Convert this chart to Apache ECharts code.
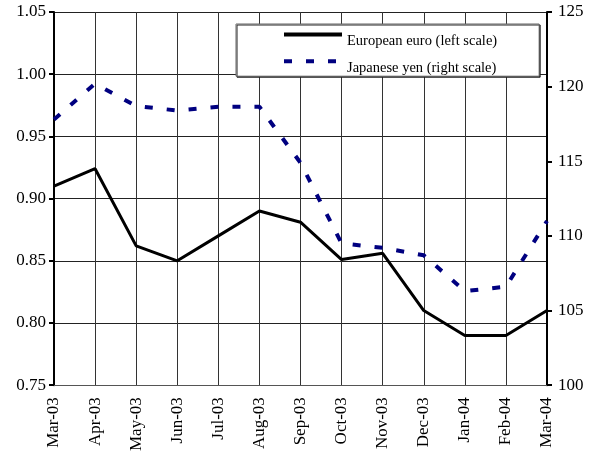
<!DOCTYPE html>
<html><head><meta charset="utf-8">
<script src="https://cdn.jsdelivr.net/npm/echarts@6/dist/echarts.min.js"></script>
<style>html,body{margin:0;padding:0;background:#fff}#c{width:597px;height:454px}</style>
</head><body><div id="c"></div>
<script>
const months = ['Mar-03','Apr-03','May-03','Jun-03','Jul-03','Aug-03','Sep-03','Oct-03','Nov-03','Dec-03','Jan-04','Feb-04','Mar-04'];
const euro = [0.910,0.924,0.862,0.850,0.870,0.890,0.881,0.851,0.856,0.810,0.790,0.790,0.810];
const yen = [117.8,120.2,118.7,118.4,118.65,118.65,114.9,109.5,109.2,108.7,106.3,106.6,111.0];
const leftTicks = {min:0.75, max:1.05, step:0.05};
const rightTicks = {min:100, max:125, step:5};
const seriesNames = ['European euro (left scale)','Japanese yen (right scale)'];
const FONT = 'Liberation Serif';
const chart = echarts.init(document.getElementById('c'));
chart.setOption({
  animation:false,
  backgroundColor:'#fff',
  grid:{left:54,right:50,top:12,bottom:68},
  legend:{
    orient:'vertical', left:236, top:24,
    padding:[5,42,1,46],
    itemWidth:58, itemHeight:14, itemGap:7,
    backgroundColor:'#fff', borderColor:'#666', borderWidth:1,
    shadowColor:'#222', shadowOffsetX:1, shadowOffsetY:1, shadowBlur:0,
    itemStyle:{opacity:0},
    lineStyle:{width:4},
    formatter:n=>'{t|'+n+'}',
    textStyle:{fontFamily:FONT,fontSize:14.5,color:'#000',
      rich:{t:{fontFamily:FONT,fontSize:14.5,color:'#000',padding:[13,0,0,0]}}},
    data:seriesNames
  },
  xAxis:{
    type:'category', data:months, boundaryGap:false,
    axisLine:{lineStyle:{color:'#555',width:1}},
    axisTick:{show:false},
    axisLabel:{rotate:90,fontFamily:FONT,fontSize:17,color:'#000',margin:12,interval:0},
    splitLine:{show:true,lineStyle:{color:'#333',width:1}}
  },
  yAxis:[{
    type:'value', position:'left', min:leftTicks.min, max:leftTicks.max, interval:leftTicks.step,
    axisLine:{show:true,lineStyle:{color:'#000',width:2}},
    axisTick:{show:true,length:5,lineStyle:{color:'#000',width:2}},
    axisLabel:{fontFamily:FONT,fontSize:17,color:'#000',margin:8,formatter:v=>v.toFixed(2)},
    splitLine:{show:true,lineStyle:{color:'#222',width:1}}
  },{
    type:'value', position:'right', min:rightTicks.min, max:rightTicks.max, interval:rightTicks.step,
    axisLine:{show:true,lineStyle:{color:'#000',width:2}},
    axisTick:{show:true,length:5,lineStyle:{color:'#000',width:2}},
    axisLabel:{fontFamily:FONT,fontSize:17,color:'#000',margin:11},
    splitLine:{show:false}
  }],
  series:[{
    name:seriesNames[0], type:'line', yAxisIndex:0, data:euro,
    symbol:'none', lineStyle:{color:'#000',width:3}, itemStyle:{color:'#000'}
  },{
    name:seriesNames[1], type:'line', yAxisIndex:1, data:yen,
    symbol:'none', lineStyle:{color:'#000080',width:4,type:[8,14]}, itemStyle:{color:'#000080'}
  }]
});
</script></body></html>
